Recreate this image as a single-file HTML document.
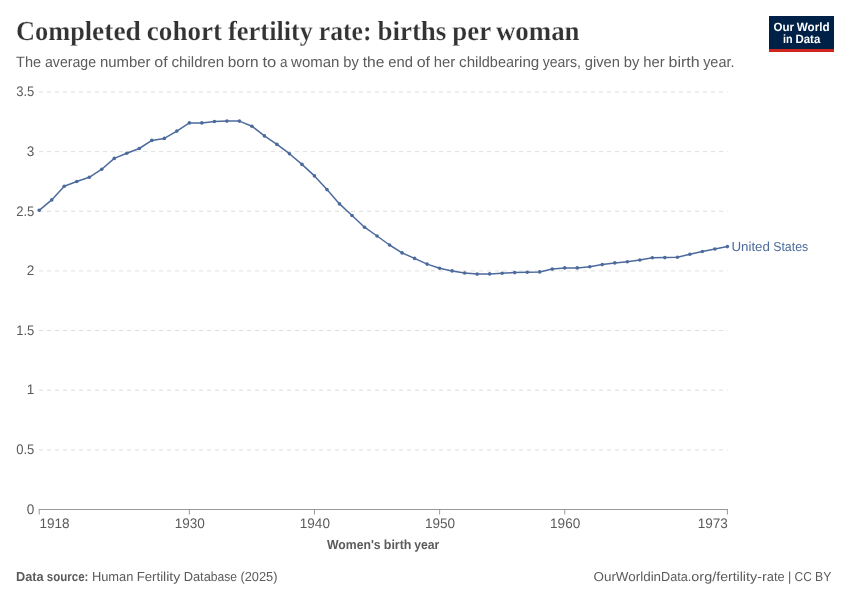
<!DOCTYPE html>
<html lang="en"><head><meta charset="utf-8"><title>Completed cohort fertility rate: births per woman</title>
<style>html,body{margin:0;padding:0;background:#fff}svg{display:block;will-change:transform;text-rendering:geometricPrecision}text{white-space:pre}</style></head><body>
<svg width="850" height="600" viewBox="0 0 850 600" font-family='"Liberation Sans", sans-serif'>
<rect width="850" height="600" fill="#fff"/>
<text y="40" font-family='"Liberation Serif", serif' font-size="27.5" font-weight="700" fill="#333" stroke="#fff" stroke-width="0.22"><tspan x="16.00" textLength="76.11" lengthAdjust="spacingAndGlyphs">Compl</tspan><tspan x="92.09" textLength="48.80" lengthAdjust="spacingAndGlyphs">eted</tspan> <tspan x="146.86" textLength="75.11" lengthAdjust="spacingAndGlyphs">cohort</tspan> <tspan x="227.92" textLength="48.70" lengthAdjust="spacingAndGlyphs">ferti</tspan><tspan x="276.61" textLength="36.25" lengthAdjust="spacingAndGlyphs">lity</tspan> <tspan x="318.81" textLength="52.69" lengthAdjust="spacingAndGlyphs">rate:</tspan> <tspan x="377.45" textLength="68.92" lengthAdjust="spacingAndGlyphs">births</tspan> <tspan x="452.33" textLength="38.33" lengthAdjust="spacingAndGlyphs">per</tspan> <tspan x="495.92" textLength="83.64" lengthAdjust="spacingAndGlyphs">woman</tspan></text>
<text y="67" font-family='"Liberation Sans", sans-serif' font-size="15" font-weight="400" fill="#5b5b5b" ><tspan x="16.10" textLength="25.03" lengthAdjust="spacingAndGlyphs">The</tspan> <tspan x="44.96" textLength="51.16" lengthAdjust="spacingAndGlyphs">average</tspan> <tspan x="99.93" textLength="50.56" lengthAdjust="spacingAndGlyphs">number</tspan> <tspan x="154.30" textLength="13.34" lengthAdjust="spacingAndGlyphs">of</tspan> <tspan x="171.47" textLength="22.69" lengthAdjust="spacingAndGlyphs">chil</tspan><tspan x="194.15" textLength="29.86" lengthAdjust="spacingAndGlyphs">dren</tspan> <tspan x="227.82" textLength="30.75" lengthAdjust="spacingAndGlyphs">born</tspan> <tspan x="262.40" textLength="13.86" lengthAdjust="spacingAndGlyphs">to</tspan> <tspan x="280.08" textLength="7.47" lengthAdjust="spacingAndGlyphs">a</tspan> <tspan x="291.07" textLength="48.36" lengthAdjust="spacingAndGlyphs">woman</tspan> <tspan x="343.26" textLength="15.58" lengthAdjust="spacingAndGlyphs">by</tspan> <tspan x="362.66" textLength="21.69" lengthAdjust="spacingAndGlyphs">the</tspan> <tspan x="388.18" textLength="24.70" lengthAdjust="spacingAndGlyphs">end</tspan> <tspan x="416.69" textLength="13.34" lengthAdjust="spacingAndGlyphs">of</tspan> <tspan x="433.87" textLength="21.45" lengthAdjust="spacingAndGlyphs">her</tspan> <tspan x="459.13" textLength="22.69" lengthAdjust="spacingAndGlyphs">chil</tspan><tspan x="481.80" textLength="32.19" lengthAdjust="spacingAndGlyphs">dbea</tspan><tspan x="513.99" textLength="25.23" lengthAdjust="spacingAndGlyphs">ring</tspan> <tspan x="542.68" textLength="38.23" lengthAdjust="spacingAndGlyphs">years,</tspan> <tspan x="584.73" textLength="35.23" lengthAdjust="spacingAndGlyphs">given</tspan> <tspan x="623.79" textLength="15.59" lengthAdjust="spacingAndGlyphs">by</tspan> <tspan x="643.19" textLength="21.45" lengthAdjust="spacingAndGlyphs">her</tspan> <tspan x="668.48" textLength="31.22" lengthAdjust="spacingAndGlyphs">birth</tspan> <tspan x="703.15" textLength="31.31" lengthAdjust="spacingAndGlyphs">year.</tspan></text>
<rect x="769" y="16" width="65" height="36" fill="#002147"/><rect x="769" y="49" width="65" height="3" fill="#ce261e"/>
<text y="31" font-family='"Liberation Sans", sans-serif' font-size="12" font-weight="700" fill="#fff" ><tspan x="773.53" textLength="20.46" lengthAdjust="spacingAndGlyphs">Our</tspan> <tspan x="796.78" textLength="32.80" lengthAdjust="spacingAndGlyphs">World</tspan></text>
<text y="43" font-family='"Liberation Sans", sans-serif' font-size="12" font-weight="700" fill="#fff" ><tspan x="783.03" textLength="9.56" lengthAdjust="spacingAndGlyphs">in</tspan> <tspan x="795.40" textLength="24.87" lengthAdjust="spacingAndGlyphs">Data</tspan></text>
<g stroke="#ddd" stroke-width="1" stroke-dasharray="4,4" fill="none">
<line x1="39" y1="449.86" x2="727.6" y2="449.86"/>
<line x1="39" y1="390.21" x2="727.6" y2="390.21"/>
<line x1="39" y1="330.57" x2="727.6" y2="330.57"/>
<line x1="39" y1="270.93" x2="727.6" y2="270.93"/>
<line x1="39" y1="211.29" x2="727.6" y2="211.29"/>
<line x1="39" y1="151.64" x2="727.6" y2="151.64"/>
<line x1="39" y1="92.00" x2="727.6" y2="92.00"/>
</g>
<text y="514" font-family='"Liberation Sans", sans-serif' font-size="13.8" font-weight="400" fill="#5b5b5b" ><tspan x="26.75" textLength="7.55" lengthAdjust="spacingAndGlyphs">0</tspan></text>
<text y="454" font-family='"Liberation Sans", sans-serif' font-size="13.8" font-weight="400" fill="#5b5b5b" ><tspan x="16.14" textLength="18.16" lengthAdjust="spacingAndGlyphs">0.5</tspan></text>
<text y="394" font-family='"Liberation Sans", sans-serif' font-size="13.8" font-weight="400" fill="#5b5b5b" ><tspan x="26.75" textLength="7.55" lengthAdjust="spacingAndGlyphs">1</tspan></text>
<text y="335" font-family='"Liberation Sans", sans-serif' font-size="13.8" font-weight="400" fill="#5b5b5b" ><tspan x="16.14" textLength="18.16" lengthAdjust="spacingAndGlyphs">1.5</tspan></text>
<text y="275" font-family='"Liberation Sans", sans-serif' font-size="13.8" font-weight="400" fill="#5b5b5b" ><tspan x="26.75" textLength="7.55" lengthAdjust="spacingAndGlyphs">2</tspan></text>
<text y="216" font-family='"Liberation Sans", sans-serif' font-size="13.8" font-weight="400" fill="#5b5b5b" ><tspan x="16.14" textLength="18.16" lengthAdjust="spacingAndGlyphs">2.5</tspan></text>
<text y="156" font-family='"Liberation Sans", sans-serif' font-size="13.8" font-weight="400" fill="#5b5b5b" ><tspan x="26.75" textLength="7.55" lengthAdjust="spacingAndGlyphs">3</tspan></text>
<text y="96" font-family='"Liberation Sans", sans-serif' font-size="13.8" font-weight="400" fill="#5b5b5b" ><tspan x="16.14" textLength="18.16" lengthAdjust="spacingAndGlyphs">3.5</tspan></text>
<g stroke="#999" stroke-width="1" fill="none"><line x1="38.7" y1="509.5" x2="727.9" y2="509.5"/>
<line x1="39.20" y1="509.5" x2="39.20" y2="514.5"/>
<line x1="189.35" y1="509.5" x2="189.35" y2="514.5"/>
<line x1="314.48" y1="509.5" x2="314.48" y2="514.5"/>
<line x1="439.61" y1="509.5" x2="439.61" y2="514.5"/>
<line x1="564.73" y1="509.5" x2="564.73" y2="514.5"/>
<line x1="727.40" y1="509.5" x2="727.40" y2="514.5"/>
</g>
<text y="528" font-family='"Liberation Sans", sans-serif' font-size="13.8" font-weight="400" fill="#5b5b5b" ><tspan x="39.50" textLength="30.17" lengthAdjust="spacingAndGlyphs">1918</tspan></text>
<text y="528" font-family='"Liberation Sans", sans-serif' font-size="13.8" font-weight="400" fill="#5b5b5b" ><tspan x="174.67" textLength="30.17" lengthAdjust="spacingAndGlyphs">1930</tspan></text>
<text y="528" font-family='"Liberation Sans", sans-serif' font-size="13.8" font-weight="400" fill="#5b5b5b" ><tspan x="299.79" textLength="30.17" lengthAdjust="spacingAndGlyphs">1940</tspan></text>
<text y="528" font-family='"Liberation Sans", sans-serif' font-size="13.8" font-weight="400" fill="#5b5b5b" ><tspan x="424.92" textLength="30.17" lengthAdjust="spacingAndGlyphs">1950</tspan></text>
<text y="528" font-family='"Liberation Sans", sans-serif' font-size="13.8" font-weight="400" fill="#5b5b5b" ><tspan x="550.05" textLength="30.17" lengthAdjust="spacingAndGlyphs">1960</tspan></text>
<text y="528" font-family='"Liberation Sans", sans-serif' font-size="13.8" font-weight="400" fill="#5b5b5b" ><tspan x="697.73" textLength="30.17" lengthAdjust="spacingAndGlyphs">1973</tspan></text>
<text y="549" font-family='"Liberation Sans", sans-serif' font-size="13" font-weight="700" fill="#5b5b5b" ><tspan x="327.03" textLength="53.62" lengthAdjust="spacingAndGlyphs">Women's</tspan> <tspan x="383.79" textLength="27.70" lengthAdjust="spacingAndGlyphs">birth</tspan> <tspan x="414.32" textLength="25.05" lengthAdjust="spacingAndGlyphs">year</tspan></text>
<path d="M39.20,210.30 L51.71,199.90 L64.23,186.30 L76.74,181.50 L89.25,177.30 L101.76,169.20 L114.28,158.40 L126.79,153.30 L139.30,148.50 L151.81,140.40 L164.33,138.40 L176.84,131.10 L189.35,122.90 L201.87,122.90 L214.38,121.50 L226.89,121.10 L239.40,121.10 L251.92,126.20 L264.43,135.90 L276.94,144.40 L289.45,153.70 L301.97,164.40 L314.48,175.90 L326.99,189.60 L339.51,203.90 L352.02,215.50 L364.53,227.20 L377.04,236.00 L389.56,245.00 L402.07,252.90 L414.58,258.40 L427.09,264.10 L439.61,268.30 L452.12,270.90 L464.63,273.00 L477.15,274.10 L489.66,273.90 L502.17,273.20 L514.68,272.60 L527.20,272.30 L539.71,271.90 L552.22,269.10 L564.73,267.90 L577.25,267.90 L589.76,266.80 L602.27,264.60 L614.79,262.90 L627.30,261.80 L639.81,260.00 L652.32,257.80 L664.84,257.60 L677.35,257.20 L689.86,254.30 L702.37,251.50 L714.89,249.00 L727.40,246.60" fill="none" stroke="#4c6a9c" stroke-width="1.5" stroke-linejoin="round" stroke-linecap="butt"/>
<g fill="#4c6a9c"><circle cx="39.20" cy="210.30" r="1.8"/><circle cx="51.71" cy="199.90" r="1.8"/><circle cx="64.23" cy="186.30" r="1.8"/><circle cx="76.74" cy="181.50" r="1.8"/><circle cx="89.25" cy="177.30" r="1.8"/><circle cx="101.76" cy="169.20" r="1.8"/><circle cx="114.28" cy="158.40" r="1.8"/><circle cx="126.79" cy="153.30" r="1.8"/><circle cx="139.30" cy="148.50" r="1.8"/><circle cx="151.81" cy="140.40" r="1.8"/><circle cx="164.33" cy="138.40" r="1.8"/><circle cx="176.84" cy="131.10" r="1.8"/><circle cx="189.35" cy="122.90" r="1.8"/><circle cx="201.87" cy="122.90" r="1.8"/><circle cx="214.38" cy="121.50" r="1.8"/><circle cx="226.89" cy="121.10" r="1.8"/><circle cx="239.40" cy="121.10" r="1.8"/><circle cx="251.92" cy="126.20" r="1.8"/><circle cx="264.43" cy="135.90" r="1.8"/><circle cx="276.94" cy="144.40" r="1.8"/><circle cx="289.45" cy="153.70" r="1.8"/><circle cx="301.97" cy="164.40" r="1.8"/><circle cx="314.48" cy="175.90" r="1.8"/><circle cx="326.99" cy="189.60" r="1.8"/><circle cx="339.51" cy="203.90" r="1.8"/><circle cx="352.02" cy="215.50" r="1.8"/><circle cx="364.53" cy="227.20" r="1.8"/><circle cx="377.04" cy="236.00" r="1.8"/><circle cx="389.56" cy="245.00" r="1.8"/><circle cx="402.07" cy="252.90" r="1.8"/><circle cx="414.58" cy="258.40" r="1.8"/><circle cx="427.09" cy="264.10" r="1.8"/><circle cx="439.61" cy="268.30" r="1.8"/><circle cx="452.12" cy="270.90" r="1.8"/><circle cx="464.63" cy="273.00" r="1.8"/><circle cx="477.15" cy="274.10" r="1.8"/><circle cx="489.66" cy="273.90" r="1.8"/><circle cx="502.17" cy="273.20" r="1.8"/><circle cx="514.68" cy="272.60" r="1.8"/><circle cx="527.20" cy="272.30" r="1.8"/><circle cx="539.71" cy="271.90" r="1.8"/><circle cx="552.22" cy="269.10" r="1.8"/><circle cx="564.73" cy="267.90" r="1.8"/><circle cx="577.25" cy="267.90" r="1.8"/><circle cx="589.76" cy="266.80" r="1.8"/><circle cx="602.27" cy="264.60" r="1.8"/><circle cx="614.79" cy="262.90" r="1.8"/><circle cx="627.30" cy="261.80" r="1.8"/><circle cx="639.81" cy="260.00" r="1.8"/><circle cx="652.32" cy="257.80" r="1.8"/><circle cx="664.84" cy="257.60" r="1.8"/><circle cx="677.35" cy="257.20" r="1.8"/><circle cx="689.86" cy="254.30" r="1.8"/><circle cx="702.37" cy="251.50" r="1.8"/><circle cx="714.89" cy="249.00" r="1.8"/><circle cx="727.40" cy="246.60" r="1.8"/></g>
<text y="251" font-family='"Liberation Sans", sans-serif' font-size="13" font-weight="400" fill="#4c6a9c" ><tspan x="731.40" textLength="38.52" lengthAdjust="spacingAndGlyphs">United</tspan> <tspan x="773.23" textLength="34.94" lengthAdjust="spacingAndGlyphs">States</tspan></text>
<text y="581" font-family='"Liberation Sans", sans-serif' font-size="13" font-weight="700" fill="#5b5b5b" ><tspan x="16.00" textLength="27.67" lengthAdjust="spacingAndGlyphs">Data</tspan> <tspan x="46.81" textLength="41.62" lengthAdjust="spacingAndGlyphs">source:</tspan></text>
<text y="581" font-family='"Liberation Sans", sans-serif' font-size="13" font-weight="400" fill="#5b5b5b" ><tspan x="91.90" textLength="41.47" lengthAdjust="spacingAndGlyphs">Human</tspan> <tspan x="136.68" textLength="26.41" lengthAdjust="spacingAndGlyphs">Ferti</tspan><tspan x="163.07" textLength="17.25" lengthAdjust="spacingAndGlyphs">lity</tspan> <tspan x="183.63" textLength="27.23" lengthAdjust="spacingAndGlyphs">Data</tspan><tspan x="210.85" textLength="26.25" lengthAdjust="spacingAndGlyphs">base</tspan> <tspan x="240.42" textLength="37.11" lengthAdjust="spacingAndGlyphs">(2025)</tspan></text>
<text y="581" font-family='"Liberation Sans", sans-serif' font-size="13" font-weight="400" fill="#5b5b5b" ><tspan x="593.50" textLength="42.25" lengthAdjust="spacingAndGlyphs">OurWo</tspan><tspan x="635.74" textLength="25.34" lengthAdjust="spacingAndGlyphs">rldin</tspan><tspan x="661.07" textLength="30.30" lengthAdjust="spacingAndGlyphs">Data.</tspan><tspan x="691.35" textLength="28.83" lengthAdjust="spacingAndGlyphs">org/f</tspan><tspan x="720.16" textLength="22.69" lengthAdjust="spacingAndGlyphs">ertil</tspan><tspan x="742.83" textLength="23.95" lengthAdjust="spacingAndGlyphs">ity-r</tspan><tspan x="766.77" textLength="17.89" lengthAdjust="spacingAndGlyphs">ate</tspan> <tspan x="787.97" textLength="3.27" lengthAdjust="spacingAndGlyphs">|</tspan> <tspan x="794.55" textLength="17.20" lengthAdjust="spacingAndGlyphs">CC</tspan> <tspan x="815.07" textLength="16.23" lengthAdjust="spacingAndGlyphs">BY</tspan></text>
</svg></body></html>
